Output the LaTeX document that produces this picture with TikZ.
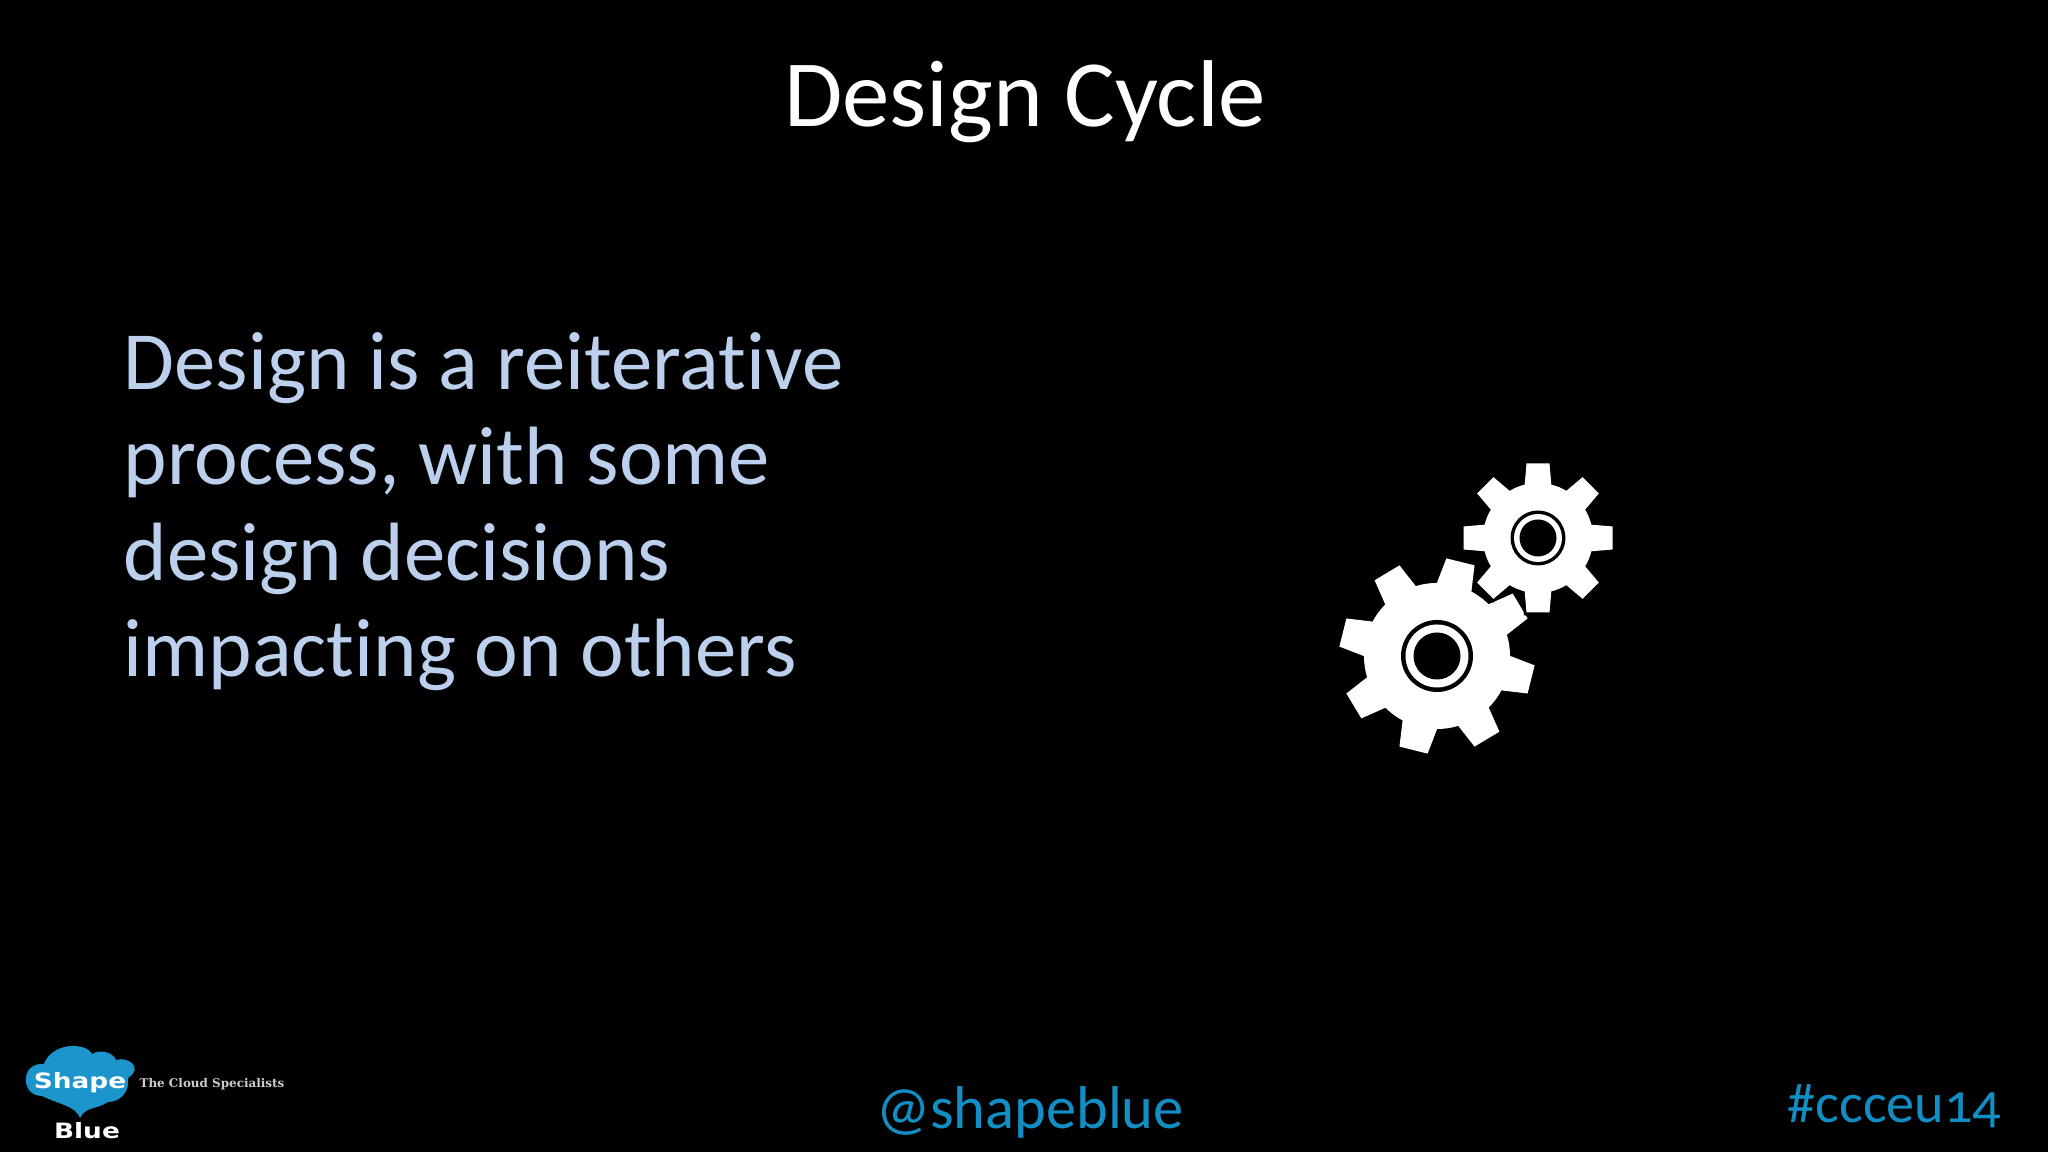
\documentclass[tikz,border=0pt]{standalone}
\usepackage{fontspec}
\setmainfont{Carlito}[Ligatures=NoCommon]
\newfontfamily\logofont{DejaVu Sans}
\newfontfamily\sloganfont{DejaVu Serif}
\usepackage{tikz}
\definecolor{paleblue}{HTML}{BCD0EE}
\definecolor{tagblue}{HTML}{118FC4}
\definecolor{cloudblue}{HTML}{1B95CC}
\tikzset{
    txt/.style={inner sep=0pt, anchor=base west, text=#1},
    bodyline/.style={txt=paleblue, font=\fontsize{23.55}{23.55}\selectfont},
    plaingear/.style={fill=white},
    halogear/.style={fill=black, draw=black, line width=1.6pt},
}
% gear: centre, root radius, tip radius, half tooth at root, half tooth at tip, rotation, look
\newcommand{\gear}[7]{
    \begin{scope}[shift={#1}, rotate=#6]
        \path[#7] (0,0) circle (#2);
        \foreach \a in {0,45,...,315} {
            \path[#7, rotate=\a] (#2-0.04,-#4) -- (#3,-#5) -- (#3,#5) -- (#2-0.04,#4) -- cycle;
        }
    \end{scope}
}
\begin{document}
\begin{tikzpicture}[x=1cm, y=1cm]
                \useasboundingbox (0,0) rectangle (20.48,11.52);
                \fill[black] (0,0) rectangle (20.48,11.52);

                \node[txt=white, anchor=base, font=\fontsize{27}{27}\selectfont] (title) at (10.25,10.25) {Design Cycle};

                \node[bodyline] (L1) at (1.23,7.62) {Design is a reiterative};
                \node[bodyline] (L2) at (1.23,6.67) {process, with some};
                \node[bodyline] (L3) at (1.23,5.71) {design decisions};
                \node[bodyline] (L4) at (1.23,4.75) {impacting on others};

                % big gear first, small one sits on top with a black edge
                \gear{(14.37,4.96)}{0.73}{0.97}{0.18}{0.145}{31}{plaingear}
                \fill[black] (14.37,4.96) circle (0.36);
                \fill[white] (14.37,4.96) circle (0.315);
                \fill[black] (14.37,4.96) circle (0.235);

                \gear{(15.38,6.14)}{0.55}{0.745}{0.135}{0.115}{0}{halogear}
                \gear{(15.38,6.14)}{0.55}{0.745}{0.135}{0.115}{0}{plaingear}
                \fill[black] (15.38,6.14) circle (0.275);
                \fill[white] (15.38,6.14) circle (0.24);
                \fill[black] (15.38,6.14) circle (0.185);

                \node[txt=tagblue, anchor=base, font=\fontsize{17.2}{17.2}\selectfont] (handle) at (10.30,0.23) {@shapeblue};
                \node[txt=tagblue, anchor=base east, font=\fontsize{16}{16}\selectfont] (tag) at (20.02,0.29) {\addfontfeatures{Numbers=OldStyle}\#ccceu14};

                % logo
                \fill[cloudblue] (0.42,0.56) .. controls (0.20,0.56) and (0.20,0.90) .. (0.44,0.88)
                    .. controls (0.52,1.10) and (0.86,1.10) .. (0.92,0.98)
                    .. controls (1.02,1.04) and (1.14,0.98) .. (1.16,0.92)
                    .. controls (1.28,0.96) and (1.44,0.84) .. (1.28,0.74)
                    .. controls (1.30,0.60) and (1.20,0.50) .. (1.08,0.50)
                    .. controls (0.96,0.42) and (0.86,0.46) .. (0.80,0.34)
                    .. controls (0.76,0.46) and (0.58,0.48) .. (0.42,0.56) -- cycle;
                \node[txt=white, anchor=center, font=\logofont\bfseries\fontsize{6}{6}\selectfont, xscale=1.25] (shape) at (0.80,0.69) {Shape};
                \node[txt=white, anchor=center, font=\logofont\bfseries\fontsize{6}{6}\selectfont, xscale=1.25] (blue) at (0.87,0.21) {Blue};
                \node[txt=white!80!black, anchor=center, font=\sloganfont\bfseries\fontsize{3.4}{3.4}\selectfont] (slogan) at (2.12,0.68) {The Cloud Specialists};
\end{tikzpicture}
\end{document}
